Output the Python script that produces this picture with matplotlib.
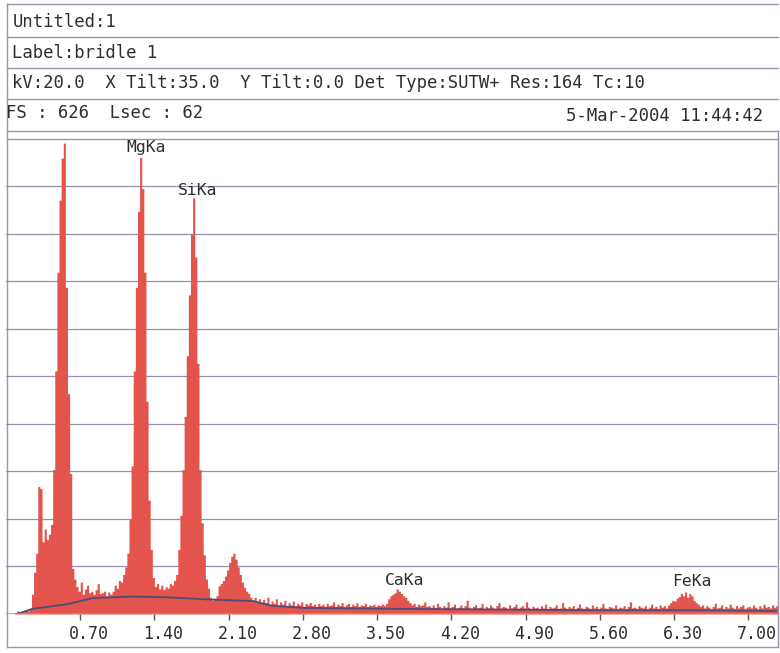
import numpy as np
import matplotlib
matplotlib.use('Agg')
import matplotlib.pyplot as plt
from matplotlib.transforms import ScaledTranslation

# Spectrum counts, 0.02 keV channels, one keV at a time
counts_0 = [0, 0, 0, 0, 2, 4, 3, 2, 3, 5, 4, 8, 26, 55, 80, 168, 165, 95, 112, 98,
            105, 118, 190, 320, 450, 545, 600, 620, 430, 290, 185, 60, 46,
            36, 30, 42, 26, 33, 38, 28, 30, 26, 32, 40, 27, 28, 30, 24, 29, 26]
counts_1 = [30, 38, 34, 44, 42, 52, 62, 80, 125, 195, 320, 430, 530, 601, 560, 450, 280, 150, 85, 48,
            36, 40, 33, 38, 32, 36, 34, 40, 38, 44, 52, 85, 130, 190, 260, 340, 420, 500, 548, 470,
            330, 190, 120, 78, 46, 34, 22, 18, 21, 24]
counts_2 = [37, 40, 44, 50, 58, 68, 76, 80, 72, 62, 52, 42, 35, 30, 27, 22, 18, 22, 16, 20,
            14, 19, 15, 22, 13, 17, 14, 20, 12, 16, 13, 18, 11, 15, 12, 17, 11, 14, 12, 16,
            10, 14, 12, 15, 11, 13, 10, 14, 11, 13]
counts_3 = [10, 14, 11, 12, 16, 10, 13, 11, 15, 10, 12, 14, 10, 13, 11, 15, 10, 12, 11, 14,
            10, 12, 11, 13, 10, 12, 11, 13, 11, 14, 20, 24, 26, 28, 33, 30, 27, 24, 22, 18,
            15, 12, 14, 10, 13, 11, 12, 16, 10, 11]
counts_4 = [9, 12, 8, 14, 10, 7, 11, 9, 16, 8, 10, 13, 7, 9, 12, 8, 11, 18, 9, 7,
            10, 12, 8, 9, 14, 7, 10, 8, 12, 9, 7, 11, 15, 8, 10, 9, 7, 12, 8, 10,
            13, 7, 9, 11, 8, 16, 9, 7, 10, 8]
counts_5 = [9, 7, 11, 8, 13, 7, 10, 8, 9, 12, 7, 8, 15, 9, 7, 10, 8, 11, 7, 9,
            13, 8, 7, 10, 9, 7, 12, 8, 10, 7, 9, 14, 8, 7, 10, 9, 8, 12, 7, 9,
            8, 11, 7, 10, 16, 8, 9, 7, 11, 9]
counts_6 = [8, 11, 7, 9, 13, 8, 10, 7, 12, 9, 11, 8, 12, 15, 18, 17, 21, 23, 27, 24,
            29, 22, 27, 24, 18, 15, 13, 10, 12, 8, 11, 9, 7, 10, 14, 8, 9, 12, 7, 10,
            8, 13, 9, 7, 11, 8, 10, 12, 7, 9]
counts_7 = [10, 8, 12, 9, 7, 11, 8, 13, 9, 10, 8, 12, 9, 11]

# fitted background curve
bg_energy = [0.10, 0.26, 0.58, 0.82, 1.20, 1.52, 1.93, 2.33, 2.50, 2.80, 3.50, 4.50, 5.50, 6.50, 7.27]
bg_counts = [0, 7, 13, 21, 23, 22, 19, 17, 11, 8, 7, 6, 5, 5, 4]

tick_values = [0.70, 1.40, 2.10, 2.80, 3.50, 4.20, 4.90, 5.60, 6.30, 7.00]
tick_labels = ['0.70', '1.40', '2.10', '2.80', '3.50', '4.20', '4.90', '5.60', '6.30', '7.00']

peak_names = ['MgKa', 'SiKa', 'CaKa', 'FeKa']
full_scale = 626

header_lines = ['Untitled:1',
                'Label:bridle 1',
                'kV:20.0  X Tilt:35.0  Y Tilt:0.0 Det Type:SUTW+ Res:164 Tc:10',
                'FS : 626  Lsec : 62']
date_text = '5-Mar-2004 11:44:42'

RED = '#e3544c'
FRAME = '#9a93ad'
GRID = '#978fb0'
TXT = '#2e2e2e'
MONO = 'DejaVu Sans Mono'

W, H = 780, 653
fig = plt.figure(figsize=(W / 100, H / 100), dpi=100)

# pixel-space layer for the printout frame and header
bg = fig.add_axes([0, 0, 1, 1])
bg.set_xlim(0, W)
bg.set_ylim(H, 0)
bg.axis('off')

for y in [4, 37, 67.5, 99, 131, 138.5]:
    bg.plot([7, 778], [y, y], color=FRAME, lw=1)
bg.plot([7, 7], [4, 647], color=FRAME, lw=1)
bg.plot([777.5, 777.5], [131, 647], color=FRAME, lw=1)
bg.plot([7, 778], [647, 647], color=FRAME, lw=1)

for txt, x, y in zip(header_lines, [12.5, 12.5, 12.5, 6.5], [27, 58, 88, 118]):
    bg.text(x, y, txt, fontsize=12.4, family=MONO, color=TXT, va='baseline', ha='left')
bg.text(763, 121, date_text, fontsize=12.4, family=MONO, color=TXT, va='baseline', ha='right')

# spectrum axes
ax = fig.add_axes([6 / W, (H - 614) / H, (777 - 6) / W, (614 - 138.5) / H])
ax.patch.set_alpha(0)

counts = np.concatenate([counts_0, counts_1, counts_2, counts_3,
                         counts_4, counts_5, counts_6, counts_7])
chan = 0.02
edges = np.arange(len(counts) + 1) * chan
ax.fill_between(edges, np.append(counts, counts[-1]), step='post',
                color=RED, lw=0, zorder=2)
ax.plot(bg_energy, bg_counts, color='#4d4d78', lw=1.3, zorder=3)

for k in range(1, 10):
    ax.axhline(k * full_scale / 10, color=GRID, lw=0.9, zorder=0)
ax.axhline(0, color='#8f95b5', lw=1.1, zorder=3)

label_pos = [(1.322, 608), (1.808, 552), (3.756, 38), (6.47, 37)]
for name, (x, y) in zip(peak_names, label_pos):
    ax.text(x, y, name, fontsize=11.8, family=MONO, color=TXT, ha='center', va='baseline')

ax.set_xlim(0, 7.272)
ax.set_ylim(0, full_scale)
ax.set_yticks([])
ax.set_xticks(tick_values, labels=tick_labels)
ax.tick_params(axis='x', direction='out', length=4, width=1, color='#555555',
               pad=4, labelsize=12, labelcolor=TXT)
offset = ScaledTranslation(9 / 100, 0, fig.dpi_scale_trans)
for lbl in ax.get_xticklabels():
    lbl.set_fontfamily(MONO)
    lbl.set_transform(lbl.get_transform() + offset)
for s in ax.spines.values():
    s.set_visible(False)

fig.savefig('out.png', dpi=100)
